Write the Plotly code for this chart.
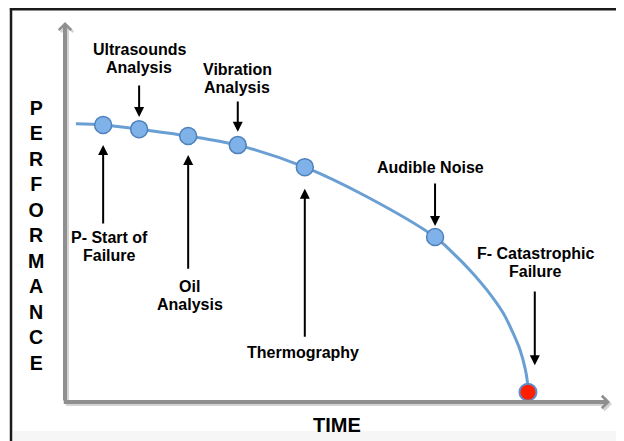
import plotly.graph_objects as go

# P-F curve (time 0-100, performance 0-100)
curve_time = [2.0, 7.0, 13.6, 22.6, 31.7, 44.0, 55.4, 67.9, 71.2, 74.3,
              77.4, 80.4, 82.2, 83.5, 84.4, 84.8, 84.95]
curve_perf = [73.2, 72.9, 71.8, 70.0, 67.6, 61.8, 54.0, 43.4, 39.2, 34.7,
              29.5, 23.4, 18.2, 13.7, 9.0, 5.8, 2.6]

event_names = ["P- Start of<br>Failure", "Ultrasounds<br>Analysis", "Oil<br>Analysis",
               "Vibration<br>Analysis", "Thermography", "Audible Noise"]
event_time = [7.0, 13.6, 22.6, 31.7, 44.0, 67.9]
event_perf = [72.9, 71.8, 70.0, 67.6, 61.8, 43.4]

failure_name = "F- Catastrophic<br>Failure"
failure_time = [84.95]
failure_perf = [2.6]

# label/arrow placement per event: (label x, label y, arrow tail y, arrow tip y)
placement = [
    (8.1, 40.8, 46.6, 67.6),
    (13.6, 90.3, 83.7, 75.0),
    (22.9, 27.9, 34.7, 65.0),
    (31.6, 85.0, 79.5, 71.1),
    (43.7, 12.9, 16.8, 56.1),
    (67.0, 61.6, 57.9, 46.3),
]

FONT = "Liberation Sans, Arial, sans-serif"


def label(text, x, y):
    # one annotation per line so the line gap matches the picture (18px)
    lines = text.split("<br>")
    n = len(lines)
    out = []
    for i, s in enumerate(lines):
        out.append(dict(x=x, y=y, xref="x", yref="y", text=s, showarrow=False,
                        yshift=(n - 1) * 9 - i * 18,
                        font=dict(family=FONT, size=16, color="black", weight="bold")))
    return out


fig = go.Figure()
fig.add_trace(go.Scatter(x=curve_time, y=curve_perf, mode="lines",
                         line=dict(color="#6a9fd4", width=3, shape="spline", smoothing=0.9),
                         hoverinfo="skip"))
fig.add_trace(go.Scatter(x=event_time, y=event_perf, mode="markers",
                         marker=dict(size=17, color="#80b2ea", line=dict(color="#4f81bd", width=1.5)),
                         hoverinfo="skip"))
fig.add_trace(go.Scatter(x=failure_time, y=failure_perf, mode="markers",
                         marker=dict(size=17, color="#ff1e00", line=dict(color="#5b8fd0", width=2)),
                         hoverinfo="skip"))

ann = []
# axes drawn as grey arrows with a soft shadow
for shift, col in [((2, -2), "#d4d4d4"), ((0, 0), "#8f8f8f")]:
    ann.append(dict(x=0, y=100, ax=0, ay=0, xref="x", yref="y", axref="x", ayref="y",
                    text="", showarrow=True, arrowhead=4, arrowsize=0.6, arrowwidth=4,
                    arrowcolor=col, xshift=shift[0], yshift=shift[1]))
    ann.append(dict(x=100, y=0, ax=-0.5, ay=0, xref="x", yref="y", axref="x", ayref="y",
                    text="", showarrow=True, arrowhead=4, arrowsize=0.6, arrowwidth=4,
                    arrowcolor=col, xshift=shift[0], yshift=shift[1]))

for name, t, (lx, ly, tail, tip) in zip(event_names, event_time, placement):
    ann.append(dict(x=t, y=tip, ax=t, ay=tail, xref="x", yref="y", axref="x", ayref="y",
                    text="", showarrow=True, arrowhead=2, arrowsize=1, arrowwidth=2,
                    arrowcolor="black"))
    ann.extend(label(name, lx, ly))

ann.append(dict(x=86.2, y=9.7, ax=86.2, ay=29.5, xref="x", yref="y", axref="x", ayref="y",
                text="", showarrow=True, arrowhead=2, arrowsize=1, arrowwidth=2,
                arrowcolor="black"))
ann.extend(label(failure_name, 86.4, 36.8))

ann.append(dict(x=49.9, y=-6.1, xref="x", yref="y", text="TIME", showarrow=False,
                font=dict(family=FONT, size=20, color="black", weight="bold")))
ann.append(dict(x=-5.3, y=43.8, xref="x", yref="y", text="<br>".join("PERFORMANCE"),
                showarrow=False, font=dict(family=FONT, size=19.6, color="black", weight="bold")))

# page frame (the page body adds an 8px offset, so the figure is 616x433)
shapes = [
    dict(type="rect", xref="paper", yref="paper", x0=0.008, x1=1.01, y0=-0.01, y1=0.023,
         fillcolor="#f6f6f6", line_width=0, layer="below"),
    dict(type="line", xref="paper", yref="paper", x0=0.003, x1=1.01, y0=0.997, y1=0.997,
         line=dict(color="#1a1a1a", width=2.5)),
    dict(type="line", xref="paper", yref="paper", x0=0.0049, x1=0.0049, y0=-0.01, y1=1.0,
         line=dict(color="#1a1a1a", width=2.5)),
]

fig.update_layout(
    width=616, height=433,
    margin=dict(l=0, r=0, t=0, b=0),
    paper_bgcolor="white", plot_bgcolor="white",
    showlegend=False,
    xaxis=dict(range=[-10.46, 102.57], visible=False, fixedrange=True),
    yaxis=dict(range=[-10.26, 103.68], visible=False, fixedrange=True),
    annotations=ann, shapes=shapes,
)

fig.write_html("out.html")
